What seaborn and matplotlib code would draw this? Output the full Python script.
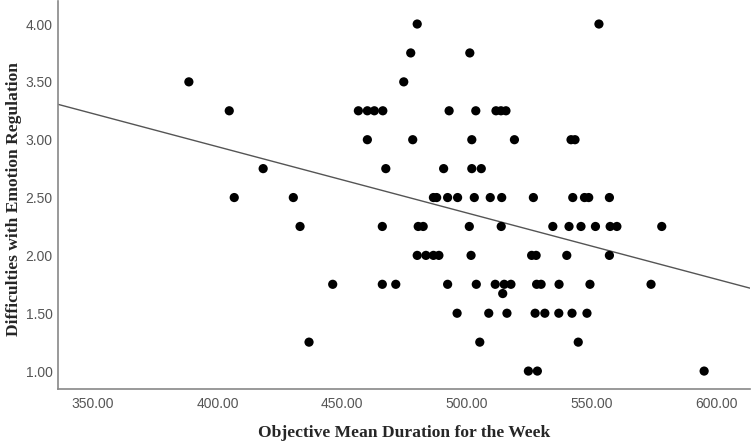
import numpy as np
import pandas as pd
import matplotlib
matplotlib.use("Agg")
import matplotlib.pyplot as plt
from matplotlib.ticker import FormatStrFormatter
import seaborn as sns

sns.set_style("white")

# values, one list per y level
duration = [
    480.1, 553.0,
    477.5, 501.2,
    388.5, 474.7,
    404.7, 456.5, 460.1, 462.9, 466.3, 492.9, 503.6, 511.7, 513.7, 515.7,
    460.1, 478.3, 502.0, 519.1, 541.8, 543.4,
    418.3, 467.5, 490.7, 502.0, 505.8,
    406.7, 430.4, 486.6, 487.9, 492.3, 496.3, 503.0, 509.4, 514.0, 526.7,
    542.5, 547.2, 548.9, 557.2,
    433.1, 466.1, 480.5, 482.5, 501.0, 513.8, 534.5, 541.0, 545.8, 551.6,
    557.5, 560.2, 578.2,
    480.1, 483.6, 486.6, 488.8, 501.7, 526.0, 527.8, 540.1, 557.2,
    446.2, 466.1, 471.5, 492.3, 503.8, 511.4, 515.0, 517.7, 528.0, 529.8,
    537.0, 549.4, 573.9,
    514.4,
    496.1, 508.8, 516.1, 527.4, 531.3, 536.9, 542.2, 548.2,
    436.7, 505.2, 544.7,
    524.7, 528.3, 595.2,
]
row_levels = [4.00, 3.75, 3.50, 3.25, 3.00, 2.75, 2.50, 2.25, 2.00, 1.75, 1.67, 1.50, 1.25, 1.00]
row_counts = [2, 2, 2, 10, 6, 5, 14, 13, 9, 13, 1, 8, 3, 3]
dersc = np.repeat(row_levels, row_counts)

# fit line as drawn in the source chart
intercept = 5.229
slope = -0.005724

x_ticks = [350, 400, 450, 500, 550, 600]
y_ticks = [1.0, 1.5, 2.0, 2.5, 3.0, 3.5, 4.0]

df = pd.DataFrame({"duration": duration, "ders": dersc})

fig, ax = plt.subplots(figsize=(7.52, 4.42), dpi=100)
fig.subplots_adjust(left=58/752, right=750/752, bottom=1-389/442, top=0.998)

sns.scatterplot(data=df, x="duration", y="ders", ax=ax, color="black",
                s=44, edgecolor="none", linewidth=0, zorder=3)

ax.set_xlim(336, 613.6)
ax.set_ylim(0.845, 4.2)
xs = np.array(ax.get_xlim())
ax.plot(xs, intercept + slope * xs, color="#555555", lw=1.0, zorder=2)

ax.set_xticks(x_ticks)
ax.set_yticks(y_ticks)
ax.xaxis.set_major_formatter(FormatStrFormatter("%.2f"))
ax.yaxis.set_major_formatter(FormatStrFormatter("%.2f"))
ax.tick_params(length=0, labelsize=10, labelcolor="#555555", pad=6)
for lab in ax.get_xticklabels() + ax.get_yticklabels():
    lab.set_family(["Liberation Sans", "DejaVu Sans"])
ax.tick_params(axis="y", pad=4)

sns.despine(ax=ax)
for sp in ["left", "bottom"]:
    ax.spines[sp].set_color("#888888")
    ax.spines[sp].set_linewidth(1.2)

lab_font = dict(family=["Liberation Serif", "DejaVu Serif"], weight="bold", size=12.6)
ax.set_xlabel("Objective Mean Duration for the Week", va="top", **lab_font)
ax.set_ylabel("Difficulties with Emotion Regulation", va="center", **lab_font)
ax.xaxis.set_label_coords(0.5, -0.094)
ax.yaxis.set_label_coords(-0.0636, 0.49)

fig.savefig("out.png", dpi=100)
